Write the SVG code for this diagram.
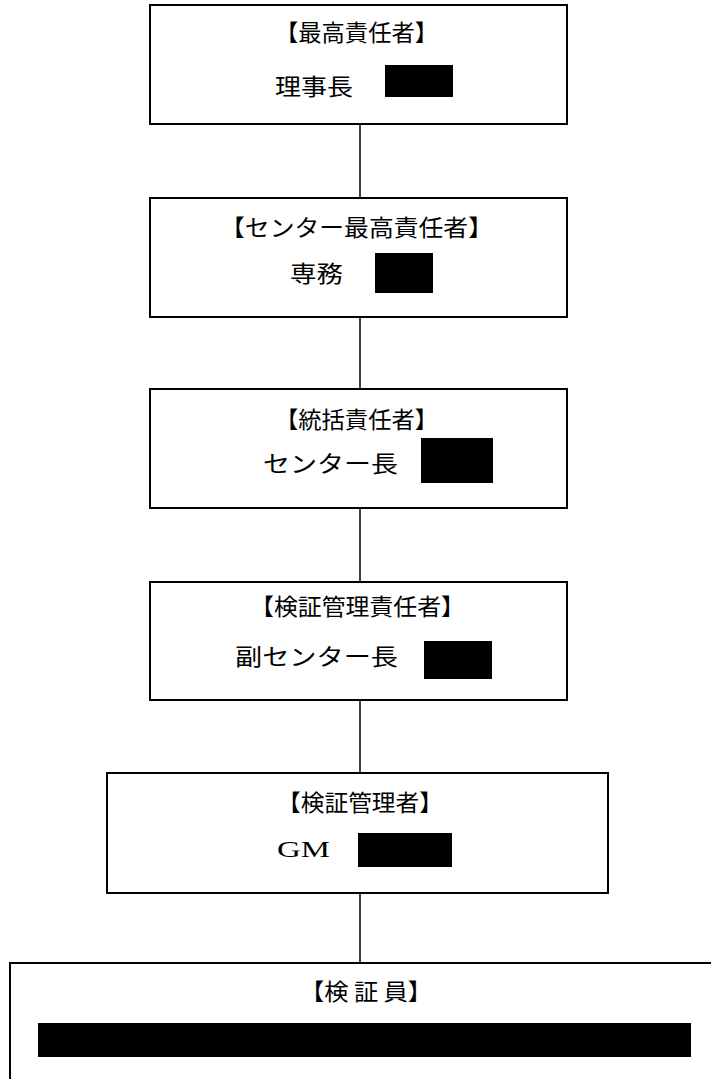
<svg xmlns="http://www.w3.org/2000/svg" width="711" height="1079" viewBox="0 0 711 1079">
<style>
.box{fill:#fff;stroke:#000;stroke-width:2}
.t{font-family:"Noto Sans CJK JP","Liberation Serif",serif;font-size:23px;fill:#000}
.gm{font-family:"Liberation Serif",serif;font-size:24px;fill:#000}
.blk{fill:#000}
.con{stroke:#000;stroke-width:1.5;fill:none}
</style>
<rect width="711" height="1079" fill="#fff"/>
<g id="connectors">
<line class="con" x1="360" y1="124" x2="360" y2="198"/>
<line class="con" x1="360" y1="317" x2="360" y2="389"/>
<line class="con" x1="360" y1="508" x2="360" y2="582"/>
<line class="con" x1="360" y1="700" x2="360" y2="773"/>
<line class="con" x1="360" y1="893" x2="360" y2="963"/>
</g>
<g id="node1">
<rect class="box" x="150" y="5" width="417" height="119"/>
<text class="t" x="275" y="41" textLength="163" lengthAdjust="spacingAndGlyphs">【最高責任者】</text>
<text class="t" x="275" y="95" textLength="78" lengthAdjust="spacingAndGlyphs">理事長</text>
<rect class="blk" x="385" y="65" width="68" height="32"/>
</g>
<g id="node2">
<rect class="box" x="150" y="198" width="417" height="119"/>
<text class="t" x="220" y="236" textLength="273" lengthAdjust="spacingAndGlyphs">【センター最高責任者】</text>
<text class="t" x="290" y="282" textLength="53" lengthAdjust="spacingAndGlyphs">専務</text>
<rect class="blk" x="375" y="253" width="58" height="40"/>
</g>
<g id="node3">
<rect class="box" x="150" y="389" width="417" height="119"/>
<text class="t" x="275" y="428" textLength="163" lengthAdjust="spacingAndGlyphs">【統括責任者】</text>
<text class="t" x="263" y="472" textLength="135" lengthAdjust="spacingAndGlyphs">センター長</text>
<rect class="blk" x="421" y="438" width="72" height="45"/>
</g>
<g id="node4">
<rect class="box" x="150" y="582" width="417" height="118"/>
<text class="t" x="250" y="615" textLength="215" lengthAdjust="spacingAndGlyphs">【検証管理責任者】</text>
<text class="t" x="235" y="665" textLength="163" lengthAdjust="spacingAndGlyphs">副センター長</text>
<rect class="blk" x="424" y="641" width="68" height="38"/>
</g>
<g id="node5">
<rect class="box" x="107" y="773" width="501" height="120"/>
<text class="t" x="277" y="811" textLength="166" lengthAdjust="spacingAndGlyphs">【検証管理者】</text>
<text class="gm" x="277" y="857" textLength="53" lengthAdjust="spacingAndGlyphs">GM</text>
<rect class="blk" x="358" y="833" width="94" height="34"/>
</g>
<g id="node6">
<rect class="box" x="10" y="963" width="715" height="130"/>
<text class="t" x="300" y="1000" textLength="132" lengthAdjust="spacingAndGlyphs" xml:space="preserve">【検 証 員】</text>
<rect class="blk" x="38" y="1023" width="653" height="34"/>
</g>
</svg>
